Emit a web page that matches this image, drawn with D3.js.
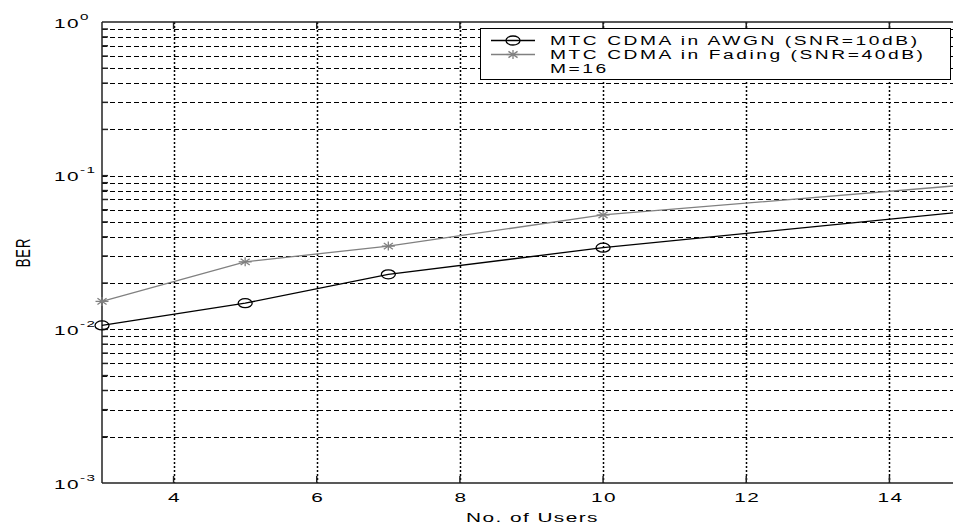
<!DOCTYPE html>
<html>
<head>
<meta charset="utf-8">
<script src="https://cdn.jsdelivr.net/npm/d3@7"></script>
<style>
  html, body { margin: 0; padding: 0; background: #fff; }
  svg { display: block; }
  text { font-family: "Liberation Sans", Arial, sans-serif; fill: #000; letter-spacing: 0.9px; }
  .legend text { letter-spacing: 1.6px; }
</style>
</head>
<body>
<div id="chart"></div>
<script>
// chart values
const users = [3, 5, 7, 10, 15];
const berAwgn = [0.0106, 0.0148, 0.0228, 0.034, 0.058];
const berFading = [0.0152, 0.0275, 0.0348, 0.0555, 0.0865];
const xTicks = [4, 6, 8, 10, 12, 14];
const yMajor = [-3, -2, -1, 0];   // exponents of 10
const legendLabels = ["MTC CDMA in AWGN (SNR=10dB)", "MTC CDMA in Fading (SNR=40dB)", "M=16"];

const W = 953, H = 527;
const SX = 1.6; // the original figure is stretched sideways
const FS = 13;

const svg = d3.select('#chart').append('svg')
    .attr('width', W).attr('height', H);

const x = d3.scaleLinear().domain([3, 15]).range([102, 961]);
const y = d3.scaleLog().domain([1e-3, 1]).range([483, 22]);

// minor + major log positions for the grid
const yGrid = [];
for (let k = -3; k < 0; k++) {
    for (let m = 1; m <= 9; m++) {
        if (k === -3 && m === 1) continue;
        yGrid.push(m * Math.pow(10, k));
    }
}

// stretched text helper
function stext(parent, px, py, anchor, size) {
    return parent.append('g')
        .attr('transform', `translate(${px},${py}) scale(${SX},1)`)
        .append('text')
        .attr('text-anchor', anchor)
        .attr('font-size', size);
}

// grid
const grid = svg.append('g');
grid.selectAll('line.h').data(yGrid).enter().append('line')
    .attr('x1', x(3)).attr('x2', x(15))
    .attr('y1', d => Math.round(y(d)) + 0.5).attr('y2', d => Math.round(y(d)) + 0.5)
    .attr('stroke', '#000').attr('stroke-width', 1)
    .attr('stroke-dasharray', '5,3');
grid.selectAll('line.v').data(xTicks).enter().append('line')
    .attr('x1', d => Math.round(x(d)) + 0.5).attr('x2', d => Math.round(x(d)) + 0.5)
    .attr('y1', y(1)).attr('y2', y(1e-3))
    .attr('stroke', '#000').attr('stroke-width', 1.5)
    .attr('stroke-dasharray', '2,2');

// axes frame
const frame = svg.append('g').attr('stroke', '#222').attr('stroke-width', 1.5);
frame.append('line').attr('x1', x(3)).attr('x2', x(3)).attr('y1', y(1)).attr('y2', y(1e-3));
frame.append('line').attr('x1', x(3)).attr('x2', x(15)).attr('y1', y(1e-3)).attr('y2', y(1e-3));
frame.append('line').attr('x1', x(3)).attr('x2', x(15)).attr('y1', y(1)).attr('y2', y(1));

// ticks
frame.selectAll('line.xb').data(xTicks).enter().append('line')
    .attr('x1', d => x(d)).attr('x2', d => x(d))
    .attr('y1', y(1e-3)).attr('y2', y(1e-3) - 7);
frame.selectAll('line.xt').data(xTicks).enter().append('line')
    .attr('x1', d => x(d)).attr('x2', d => x(d))
    .attr('y1', y(1)).attr('y2', y(1) + 7);
frame.selectAll('line.ym').data(yGrid).enter().append('line')
    .attr('x1', x(3)).attr('x2', x(3) + 6)
    .attr('y1', d => y(d)).attr('y2', d => y(d));

// x tick labels
xTicks.forEach(t => {
    stext(svg, x(t) + 1, 502, 'middle', FS).text(t);
});

// y tick labels, 10 with a superscript
yMajor.forEach(e => {
    const t = stext(svg, 54, y(Math.pow(10, e)) + 5.5, 'start', FS);
    t.append('tspan').text('10');
    t.append('tspan').attr('font-size', 9.5).attr('dy', -8).text(e);
});

// axis titles
stext(svg, x(9) + 1, 522, 'middle', FS).text('No. of Users');
svg.append('g')
    .attr('transform', `translate(30,${(y(1) + y(1e-3)) / 2}) scale(${SX},1) rotate(-90)`)
    .append('text').attr('text-anchor', 'middle').attr('font-size', FS).text('BER');

// series
const line = d3.line().x((d, i) => x(users[i])).y(d => y(d));
const plot = svg.append('g');

plot.append('path').datum(berFading)
    .attr('d', line).attr('fill', 'none')
    .attr('stroke', '#808080').attr('stroke-width', 1.3);
plot.append('path').datum(berAwgn)
    .attr('d', line).attr('fill', 'none')
    .attr('stroke', '#000').attr('stroke-width', 1.3);

function drawCircle(g, cx, cy) {
    g.append('ellipse').attr('cx', cx).attr('cy', cy)
        .attr('rx', 7).attr('ry', 4.5)
        .attr('fill', 'none').attr('stroke', '#000').attr('stroke-width', 1.3);
}
function drawStar(g, cx, cy) {
    const a = 6.5, b = 4.5;
    const segs = [[-a, 0, a, 0], [0, -b, 0, b], [-a * 0.7, -b * 0.7, a * 0.7, b * 0.7], [-a * 0.7, b * 0.7, a * 0.7, -b * 0.7]];
    segs.forEach(s => {
        g.append('line')
            .attr('x1', cx + s[0]).attr('y1', cy + s[1])
            .attr('x2', cx + s[2]).attr('y2', cy + s[3])
            .attr('stroke', '#808080').attr('stroke-width', 1.3);
    });
}

berFading.forEach((v, i) => drawStar(plot, x(users[i]), y(v)));
berAwgn.forEach((v, i) => drawCircle(plot, x(users[i]), y(v)));

// legend
const lg = svg.append('g').attr('class', 'legend');
lg.append('rect')
    .attr('x', 480.5).attr('y', 28.5).attr('width', 470).attr('height', 51)
    .attr('fill', '#fff').attr('stroke', '#000').attr('stroke-width', 1);
const rowY = [40.5, 54.5, 68.5];
lg.append('line').attr('x1', 491).attr('x2', 535).attr('y1', rowY[0]).attr('y2', rowY[0])
    .attr('stroke', '#000').attr('stroke-width', 1.3);
drawCircle(lg, 513, rowY[0]);
lg.append('line').attr('x1', 491).attr('x2', 535).attr('y1', rowY[1]).attr('y2', rowY[1])
    .attr('stroke', '#808080').attr('stroke-width', 1.3);
drawStar(lg, 513, rowY[1]);
legendLabels.forEach((s, i) => {
    stext(lg, 550, rowY[i] + 4.3, 'start', 12).text(s);
});
</script>
</body>
</html>
